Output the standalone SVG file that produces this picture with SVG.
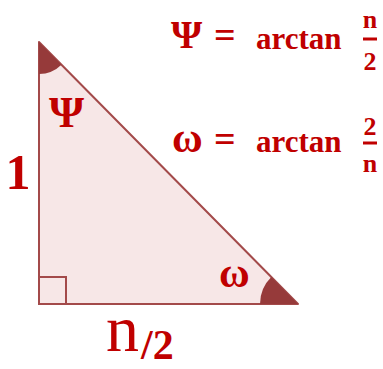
<svg xmlns="http://www.w3.org/2000/svg" width="383" height="369" viewBox="0 0 383 369">
<style>
.t{font-family:"Liberation Serif","Times New Roman",serif;fill:#c00000;font-weight:bold}
.r{font-weight:normal}
.edge{fill:none;stroke:#a34a4a;stroke-width:2}
.ang{fill:#963a3a}
</style>
<rect width="383" height="369" fill="#ffffff"/>
<g id="triangle">
<polygon points="39,42 39,304 298,304" fill="#f7e7e7" stroke="#a34a4a" stroke-width="2" stroke-linejoin="round"/>
<rect class="edge" x="39" y="277" width="27" height="27"/>
<path class="ang" d="M39,42 L39,74 A32,32 0 0 0 61.5,64.8 Z"/>
<path class="ang" d="M298,304 L260,304 A38,38 0 0 1 271.3,277 Z"/>
</g>
<g id="labels">
<text class="t" x="49" y="127" font-size="45">Ψ</text>
<text class="t" x="219" y="287" font-size="42">ω</text>
<text class="t" x="18" y="189" font-size="50" text-anchor="middle">1</text>
<text class="t r" x="106" y="351" font-size="66">n</text>
<text class="t" x="141" y="359" font-size="42">/2</text>
</g>
<g id="eq-psi">
<text class="t" x="171" y="48" font-size="40">Ψ</text>
<text class="t" x="214" y="48" font-size="38">=</text>
<text class="t" x="256" y="49" font-size="31">arctan</text>
<text class="t" x="370" y="28" font-size="26" text-anchor="middle">n</text>
<line x1="363" y1="39" x2="377" y2="39" stroke="#c00000" stroke-width="3"/>
<text class="t" x="370" y="70" font-size="26" text-anchor="middle">2</text>
</g>
<g id="eq-omega">
<text class="t" x="172" y="152" font-size="42">ω</text>
<text class="t" x="214" y="152" font-size="38">=</text>
<text class="t" x="256" y="152" font-size="31">arctan</text>
<text class="t" x="370" y="135" font-size="26" text-anchor="middle">2</text>
<line x1="363" y1="143" x2="377" y2="143" stroke="#c00000" stroke-width="3"/>
<text class="t" x="370" y="172" font-size="26" text-anchor="middle">n</text>
</g>
</svg>
